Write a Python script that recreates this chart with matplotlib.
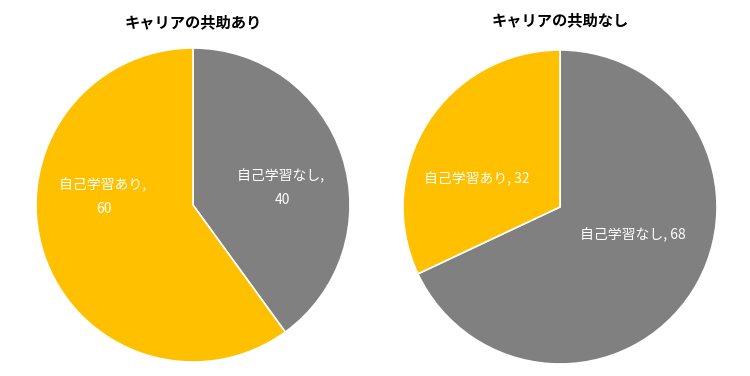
import matplotlib
matplotlib.use("Agg")
import matplotlib.pyplot as plt

plt.rcParams['font.family'] = ['Noto Sans CJK JP', 'DejaVu Sans']

titles = ["キャリアの共助あり", "キャリアの共助なし"]
categories = ["自己学習なし", "自己学習あり"]
values_left = [40, 60]
values_right = [68, 32]
colors = ["#808080", "#FFC000"]

fig = plt.figure(figsize=(7.5, 3.76), dpi=100)

def draw(ax, vals, title, label_pos, label_fmt):
    wedges, _ = ax.pie(vals, colors=colors, startangle=90, counterclock=False,
                       wedgeprops=dict(edgecolor="white", linewidth=1.2), radius=1.0)
    ax.set_xlim(-1, 1)
    ax.set_ylim(-1, 1)
    ax.set_aspect("equal")
    for cat, v, pos, fmt in zip(categories, vals, label_pos, label_fmt):
        ax.text(pos[0], pos[1], fmt.format(c=cat, v=v), color="white", fontsize=10,
                ha="center", va="center", linespacing=1.9)

axL = fig.add_axes([36/750, 14/376, 314/750, 314/376])
draw(axL, values_left, titles[0], [(0.567, 0.11), (-0.567, 0.05)],
     ["{c}, \n{v}", "{c}, \n{v}"])
axR = fig.add_axes([403/750, 12/376, 314/750, 314/376])
draw(axR, values_right, titles[1], [(0.465, -0.18), (-0.53, 0.18)],
     ["{c}, {v}", "{c}, {v}"])

fig.text(193/750, 1 - 22/376, titles[0], ha="center", va="center", fontsize=11, fontweight="bold")
fig.text(560/750, 1 - 20/376, titles[1], ha="center", va="center", fontsize=11, fontweight="bold")

fig.savefig("out.png", dpi=100, facecolor="white")
